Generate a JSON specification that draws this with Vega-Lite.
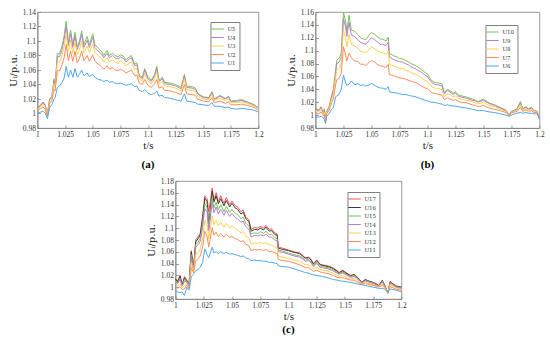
{
"$schema": "https://vega.github.io/schema/vega-lite/v6.json",
"background": "white",
"padding": {"left": 7, "top": 7, "right": 0, "bottom": 0},
"datasets": {
"a": [
{"t":1.000,"U5":1.008,"U4":1.007,"U3":1.006,"U2":1.004,"U1":1.000},
{"t":1.003,"U5":1.012,"U4":1.011,"U3":1.009,"U2":1.007,"U1":1.002},
{"t":1.005,"U5":1.016,"U4":1.015,"U3":1.013,"U2":1.009,"U1":1.003},
{"t":1.007,"U5":1.012,"U4":1.011,"U3":1.009,"U2":1.006,"U1":1.001},
{"t":1.009,"U5":1.000,"U4":0.999,"U3":0.998,"U2":0.996,"U1":0.993},
{"t":1.011,"U5":1.020,"U4":1.019,"U3":1.017,"U2":1.014,"U1":1.008},
{"t":1.013,"U5":1.024,"U4":1.023,"U3":1.021,"U2":1.018,"U1":1.012},
{"t":1.015,"U5":1.048,"U4":1.045,"U3":1.041,"U2":1.033,"U1":1.020},
{"t":1.016,"U5":1.040,"U4":1.038,"U3":1.036,"U2":1.031,"U1":1.022},
{"t":1.018,"U5":1.083,"U4":1.079,"U3":1.071,"U2":1.059,"U1":1.036},
{"t":1.020,"U5":1.082,"U4":1.078,"U3":1.071,"U2":1.059,"U1":1.038},
{"t":1.022,"U5":1.092,"U4":1.087,"U3":1.079,"U2":1.066,"U1":1.042},
{"t":1.024,"U5":1.106,"U4":1.101,"U3":1.091,"U2":1.076,"U1":1.048},
{"t":1.026,"U5":1.127,"U4":1.121,"U3":1.111,"U2":1.095,"U1":1.065},
{"t":1.028,"U5":1.098,"U4":1.094,"U3":1.086,"U2":1.073,"U1":1.050},
{"t":1.030,"U5":1.115,"U4":1.110,"U3":1.101,"U2":1.086,"U1":1.060},
{"t":1.032,"U5":1.095,"U4":1.091,"U3":1.083,"U2":1.072,"U1":1.050},
{"t":1.034,"U5":1.112,"U4":1.107,"U3":1.099,"U2":1.086,"U1":1.062},
{"t":1.036,"U5":1.092,"U4":1.088,"U3":1.081,"U2":1.070,"U1":1.050},
{"t":1.038,"U5":1.100,"U4":1.096,"U3":1.088,"U2":1.076,"U1":1.054},
{"t":1.040,"U5":1.114,"U4":1.109,"U3":1.100,"U2":1.086,"U1":1.060},
{"t":1.042,"U5":1.095,"U4":1.091,"U3":1.084,"U2":1.073,"U1":1.052},
{"t":1.045,"U5":1.106,"U4":1.101,"U3":1.093,"U2":1.080,"U1":1.056},
{"t":1.047,"U5":1.095,"U4":1.091,"U3":1.084,"U2":1.072,"U1":1.051},
{"t":1.050,"U5":1.110,"U4":1.105,"U3":1.096,"U2":1.081,"U1":1.054},
{"t":1.052,"U5":1.095,"U4":1.091,"U3":1.084,"U2":1.072,"U1":1.050},
{"t":1.055,"U5":1.090,"U4":1.086,"U3":1.080,"U2":1.068,"U1":1.047},
{"t":1.058,"U5":1.086,"U4":1.082,"U3":1.076,"U2":1.065,"U1":1.046},
{"t":1.060,"U5":1.080,"U4":1.077,"U3":1.071,"U2":1.061,"U1":1.044},
{"t":1.063,"U5":1.087,"U4":1.083,"U3":1.077,"U2":1.066,"U1":1.046},
{"t":1.065,"U5":1.080,"U4":1.077,"U3":1.071,"U2":1.061,"U1":1.043},
{"t":1.068,"U5":1.083,"U4":1.080,"U3":1.074,"U2":1.063,"U1":1.044},
{"t":1.070,"U5":1.080,"U4":1.077,"U3":1.071,"U2":1.060,"U1":1.042},
{"t":1.073,"U5":1.078,"U4":1.075,"U3":1.069,"U2":1.059,"U1":1.041},
{"t":1.075,"U5":1.081,"U4":1.078,"U3":1.072,"U2":1.061,"U1":1.042},
{"t":1.078,"U5":1.079,"U4":1.076,"U3":1.070,"U2":1.059,"U1":1.040},
{"t":1.080,"U5":1.074,"U4":1.071,"U3":1.066,"U2":1.056,"U1":1.039},
{"t":1.083,"U5":1.078,"U4":1.075,"U3":1.069,"U2":1.058,"U1":1.040},
{"t":1.085,"U5":1.080,"U4":1.077,"U3":1.071,"U2":1.060,"U1":1.041},
{"t":1.088,"U5":1.068,"U4":1.066,"U3":1.061,"U2":1.052,"U1":1.037},
{"t":1.090,"U5":1.070,"U4":1.067,"U3":1.062,"U2":1.053,"U1":1.038},
{"t":1.092,"U5":1.053,"U4":1.051,"U3":1.048,"U2":1.042,"U1":1.032},
{"t":1.095,"U5":1.050,"U4":1.048,"U3":1.045,"U2":1.040,"U1":1.030},
{"t":1.097,"U5":1.062,"U4":1.060,"U3":1.055,"U2":1.047,"U1":1.033},
{"t":1.100,"U5":1.050,"U4":1.048,"U3":1.045,"U2":1.039,"U1":1.028},
{"t":1.103,"U5":1.046,"U4":1.044,"U3":1.041,"U2":1.036,"U1":1.026},
{"t":1.106,"U5":1.054,"U4":1.052,"U3":1.048,"U2":1.041,"U1":1.028},
{"t":1.108,"U5":1.065,"U4":1.062,"U3":1.057,"U2":1.047,"U1":1.031},
{"t":1.110,"U5":1.046,"U4":1.044,"U3":1.041,"U2":1.035,"U1":1.024},
{"t":1.113,"U5":1.050,"U4":1.048,"U3":1.044,"U2":1.037,"U1":1.025},
{"t":1.115,"U5":1.043,"U4":1.041,"U3":1.038,"U2":1.032,"U1":1.022},
{"t":1.120,"U5":1.042,"U4":1.040,"U3":1.037,"U2":1.031,"U1":1.021},
{"t":1.125,"U5":1.040,"U4":1.038,"U3":1.035,"U2":1.029,"U1":1.019},
{"t":1.130,"U5":1.036,"U4":1.034,"U3":1.031,"U2":1.026,"U1":1.017},
{"t":1.133,"U5":1.054,"U4":1.052,"U3":1.048,"U2":1.040,"U1":1.027},
{"t":1.135,"U5":1.038,"U4":1.036,"U3":1.033,"U2":1.027,"U1":1.017},
{"t":1.140,"U5":1.037,"U4":1.035,"U3":1.032,"U2":1.026,"U1":1.016},
{"t":1.143,"U5":1.035,"U4":1.033,"U3":1.030,"U2":1.025,"U1":1.015},
{"t":1.145,"U5":1.028,"U4":1.027,"U3":1.024,"U2":1.020,"U1":1.013},
{"t":1.150,"U5":1.023,"U4":1.022,"U3":1.020,"U2":1.017,"U1":1.012},
{"t":1.155,"U5":1.022,"U4":1.021,"U3":1.019,"U2":1.016,"U1":1.011},
{"t":1.158,"U5":1.030,"U4":1.029,"U3":1.026,"U2":1.022,"U1":1.015},
{"t":1.160,"U5":1.020,"U4":1.019,"U3":1.018,"U2":1.015,"U1":1.010},
{"t":1.165,"U5":1.025,"U4":1.024,"U3":1.021,"U2":1.017,"U1":1.010},
{"t":1.170,"U5":1.021,"U4":1.020,"U3":1.018,"U2":1.014,"U1":1.008},
{"t":1.173,"U5":1.024,"U4":1.023,"U3":1.020,"U2":1.016,"U1":1.009},
{"t":1.175,"U5":1.017,"U4":1.016,"U3":1.015,"U2":1.012,"U1":1.007},
{"t":1.180,"U5":1.018,"U4":1.017,"U3":1.015,"U2":1.012,"U1":1.006},
{"t":1.185,"U5":1.019,"U4":1.018,"U3":1.016,"U2":1.013,"U1":1.007},
{"t":1.190,"U5":1.016,"U4":1.015,"U3":1.014,"U2":1.011,"U1":1.006},
{"t":1.195,"U5":1.013,"U4":1.012,"U3":1.011,"U2":1.009,"U1":1.005},
{"t":1.200,"U5":1.008,"U4":1.008,"U3":1.007,"U2":1.005,"U1":1.002}
],
"b": [
{"t":1.000,"U10":1.010,"U9":1.009,"U8":1.006,"U7":1.003,"U6":0.997},
{"t":1.003,"U10":1.008,"U9":1.007,"U8":1.005,"U7":1.002,"U6":0.997},
{"t":1.005,"U10":1.013,"U9":1.012,"U8":1.009,"U7":1.005,"U6":0.998},
{"t":1.007,"U10":1.003,"U9":1.002,"U8":1.001,"U7":0.999,"U6":0.996},
{"t":1.008,"U10":1.010,"U9":1.008,"U8":1.005,"U7":1.001,"U6":0.993},
{"t":1.009,"U10":0.992,"U9":0.992,"U8":0.991,"U7":0.989,"U6":0.987},
{"t":1.010,"U10":1.006,"U9":1.005,"U8":1.004,"U7":1.002,"U6":0.998},
{"t":1.012,"U10":1.012,"U9":1.011,"U8":1.009,"U7":1.007,"U6":1.002},
{"t":1.014,"U10":1.028,"U9":1.026,"U8":1.022,"U7":1.017,"U6":1.008},
{"t":1.016,"U10":1.040,"U9":1.037,"U8":1.032,"U7":1.025,"U6":1.012},
{"t":1.018,"U10":1.070,"U9":1.066,"U8":1.058,"U7":1.047,"U6":1.028},
{"t":1.019,"U10":1.085,"U9":1.080,"U8":1.070,"U7":1.055,"U6":1.030},
{"t":1.021,"U10":1.088,"U9":1.082,"U8":1.072,"U7":1.057,"U6":1.032},
{"t":1.023,"U10":1.095,"U9":1.090,"U8":1.080,"U7":1.065,"U6":1.040},
{"t":1.025,"U10":1.160,"U9":1.150,"U8":1.133,"U7":1.106,"U6":1.062},
{"t":1.027,"U10":1.145,"U9":1.136,"U8":1.118,"U7":1.093,"U6":1.050},
{"t":1.028,"U10":1.130,"U9":1.122,"U8":1.106,"U7":1.084,"U6":1.046},
{"t":1.030,"U10":1.155,"U9":1.144,"U8":1.125,"U7":1.096,"U6":1.048},
{"t":1.032,"U10":1.132,"U9":1.124,"U8":1.110,"U7":1.089,"U6":1.053},
{"t":1.035,"U10":1.130,"U9":1.122,"U8":1.107,"U7":1.084,"U6":1.047},
{"t":1.038,"U10":1.125,"U9":1.117,"U8":1.104,"U7":1.083,"U6":1.049},
{"t":1.040,"U10":1.120,"U9":1.113,"U8":1.099,"U7":1.079,"U6":1.046},
{"t":1.043,"U10":1.118,"U9":1.111,"U8":1.098,"U7":1.079,"U6":1.047},
{"t":1.045,"U10":1.117,"U9":1.110,"U8":1.097,"U7":1.077,"U6":1.045},
{"t":1.048,"U10":1.124,"U9":1.116,"U8":1.102,"U7":1.082,"U6":1.047},
{"t":1.050,"U10":1.128,"U9":1.120,"U8":1.106,"U7":1.085,"U6":1.049},
{"t":1.053,"U10":1.125,"U9":1.117,"U8":1.103,"U7":1.082,"U6":1.046},
{"t":1.055,"U10":1.122,"U9":1.114,"U8":1.100,"U7":1.079,"U6":1.044},
{"t":1.058,"U10":1.118,"U9":1.110,"U8":1.097,"U7":1.076,"U6":1.042},
{"t":1.060,"U10":1.118,"U9":1.110,"U8":1.097,"U7":1.076,"U6":1.042},
{"t":1.063,"U10":1.115,"U9":1.108,"U8":1.094,"U7":1.074,"U6":1.040},
{"t":1.065,"U10":1.121,"U9":1.113,"U8":1.099,"U7":1.079,"U6":1.044},
{"t":1.066,"U10":1.096,"U9":1.090,"U8":1.079,"U7":1.063,"U6":1.036},
{"t":1.070,"U10":1.092,"U9":1.086,"U8":1.076,"U7":1.061,"U6":1.035},
{"t":1.073,"U10":1.090,"U9":1.084,"U8":1.074,"U7":1.059,"U6":1.034},
{"t":1.075,"U10":1.088,"U9":1.083,"U8":1.073,"U7":1.058,"U6":1.033},
{"t":1.078,"U10":1.087,"U9":1.082,"U8":1.072,"U7":1.057,"U6":1.032},
{"t":1.080,"U10":1.085,"U9":1.080,"U8":1.070,"U7":1.056,"U6":1.032},
{"t":1.083,"U10":1.083,"U9":1.078,"U8":1.068,"U7":1.054,"U6":1.031},
{"t":1.085,"U10":1.080,"U9":1.075,"U8":1.066,"U7":1.053,"U6":1.030},
{"t":1.088,"U10":1.078,"U9":1.073,"U8":1.064,"U7":1.051,"U6":1.029},
{"t":1.090,"U10":1.076,"U9":1.071,"U8":1.063,"U7":1.050,"U6":1.028},
{"t":1.093,"U10":1.073,"U9":1.068,"U8":1.060,"U7":1.047,"U6":1.026},
{"t":1.095,"U10":1.070,"U9":1.066,"U8":1.057,"U7":1.045,"U6":1.025},
{"t":1.098,"U10":1.066,"U9":1.062,"U8":1.054,"U7":1.042,"U6":1.023},
{"t":1.100,"U10":1.064,"U9":1.060,"U8":1.052,"U7":1.041,"U6":1.022},
{"t":1.103,"U10":1.055,"U9":1.052,"U8":1.045,"U7":1.036,"U6":1.020},
{"t":1.105,"U10":1.052,"U9":1.049,"U8":1.043,"U7":1.034,"U6":1.020},
{"t":1.108,"U10":1.050,"U9":1.047,"U8":1.041,"U7":1.033,"U6":1.019},
{"t":1.110,"U10":1.050,"U9":1.047,"U8":1.041,"U7":1.032,"U6":1.018},
{"t":1.113,"U10":1.048,"U9":1.045,"U8":1.039,"U7":1.031,"U6":1.017},
{"t":1.115,"U10":1.035,"U9":1.033,"U8":1.029,"U7":1.024,"U6":1.015},
{"t":1.118,"U10":1.040,"U9":1.038,"U8":1.033,"U7":1.027,"U6":1.016},
{"t":1.120,"U10":1.038,"U9":1.036,"U8":1.032,"U7":1.025,"U6":1.015},
{"t":1.123,"U10":1.034,"U9":1.032,"U8":1.028,"U7":1.023,"U6":1.014},
{"t":1.125,"U10":1.036,"U9":1.034,"U8":1.030,"U7":1.024,"U6":1.014},
{"t":1.128,"U10":1.031,"U9":1.029,"U8":1.026,"U7":1.021,"U6":1.013},
{"t":1.130,"U10":1.030,"U9":1.028,"U8":1.025,"U7":1.020,"U6":1.012},
{"t":1.135,"U10":1.028,"U9":1.026,"U8":1.023,"U7":1.019,"U6":1.011},
{"t":1.140,"U10":1.025,"U9":1.023,"U8":1.021,"U7":1.016,"U6":1.009},
{"t":1.143,"U10":1.023,"U9":1.022,"U8":1.019,"U7":1.015,"U6":1.008},
{"t":1.145,"U10":1.021,"U9":1.020,"U8":1.017,"U7":1.013,"U6":1.007},
{"t":1.150,"U10":1.025,"U9":1.023,"U8":1.020,"U7":1.015,"U6":1.007},
{"t":1.155,"U10":1.019,"U9":1.018,"U8":1.015,"U7":1.011,"U6":1.005},
{"t":1.160,"U10":1.016,"U9":1.015,"U8":1.013,"U7":1.009,"U6":1.004},
{"t":1.165,"U10":1.012,"U9":1.011,"U8":1.009,"U7":1.007,"U6":1.002},
{"t":1.170,"U10":1.008,"U9":1.007,"U8":1.006,"U7":1.004,"U6":1.000},
{"t":1.173,"U10":1.000,"U9":1.000,"U8":0.999,"U7":0.999,"U6":0.998},
{"t":1.175,"U10":1.006,"U9":1.005,"U8":1.004,"U7":1.003,"U6":1.000},
{"t":1.178,"U10":1.008,"U9":1.007,"U8":1.006,"U7":1.005,"U6":1.002},
{"t":1.180,"U10":1.010,"U9":1.009,"U8":1.008,"U7":1.006,"U6":1.003},
{"t":1.183,"U10":1.021,"U9":1.019,"U8":1.016,"U7":1.012,"U6":1.004},
{"t":1.185,"U10":1.010,"U9":1.009,"U8":1.008,"U7":1.006,"U6":1.003},
{"t":1.188,"U10":1.013,"U9":1.012,"U8":1.010,"U7":1.008,"U6":1.004},
{"t":1.190,"U10":1.010,"U9":1.009,"U8":1.008,"U7":1.006,"U6":1.003},
{"t":1.193,"U10":1.012,"U9":1.011,"U8":1.009,"U7":1.007,"U6":1.003},
{"t":1.195,"U10":1.007,"U9":1.007,"U8":1.006,"U7":1.004,"U6":1.002},
{"t":1.198,"U10":1.006,"U9":1.006,"U8":1.005,"U7":1.004,"U6":1.002},
{"t":1.200,"U10":0.994,"U9":0.994,"U8":0.994,"U7":0.994,"U6":0.994}
],
"c": [
{"t":1.000,"U17":1.015,"U16":1.014,"U15":1.011,"U14":1.010,"U13":1.005,"U12":1.000,"U11":0.993},
{"t":1.002,"U17":1.010,"U16":1.009,"U15":1.007,"U14":1.006,"U13":1.002,"U12":0.998,"U11":0.992},
{"t":1.004,"U17":1.020,"U16":1.019,"U15":1.015,"U14":1.013,"U13":1.006,"U12":1.001,"U11":0.991},
{"t":1.006,"U17":1.005,"U16":1.004,"U15":1.003,"U14":1.002,"U13":0.999,"U12":0.996,"U11":0.992},
{"t":1.008,"U17":1.018,"U16":1.016,"U15":1.013,"U14":1.010,"U13":1.003,"U12":0.997,"U11":0.986},
{"t":1.010,"U17":1.012,"U16":1.011,"U15":1.010,"U14":1.009,"U13":1.006,"U12":1.004,"U11":1.000},
{"t":1.012,"U17":1.004,"U16":1.004,"U15":1.003,"U14":1.002,"U13":1.000,"U12":0.998,"U11":0.995},
{"t":1.014,"U17":1.062,"U16":1.060,"U15":1.055,"U14":1.051,"U13":1.041,"U12":1.033,"U11":1.018},
{"t":1.016,"U17":1.032,"U16":1.032,"U15":1.030,"U14":1.030,"U13":1.027,"U12":1.025,"U11":1.022},
{"t":1.018,"U17":1.080,"U16":1.077,"U15":1.072,"U14":1.068,"U13":1.056,"U12":1.045,"U11":1.028},
{"t":1.020,"U17":1.085,"U16":1.082,"U15":1.076,"U14":1.072,"U13":1.059,"U12":1.048,"U11":1.030},
{"t":1.022,"U17":1.092,"U16":1.089,"U15":1.083,"U14":1.078,"U13":1.065,"U12":1.053,"U11":1.034},
{"t":1.024,"U17":1.120,"U16":1.116,"U15":1.108,"U14":1.101,"U13":1.083,"U12":1.068,"U11":1.042},
{"t":1.026,"U17":1.155,"U16":1.151,"U15":1.141,"U14":1.133,"U13":1.113,"U12":1.095,"U11":1.065},
{"t":1.028,"U17":1.150,"U16":1.145,"U15":1.135,"U14":1.127,"U13":1.105,"U12":1.086,"U11":1.055},
{"t":1.0295,"U17":1.128,"U16":1.105,"U15":1.100,"U14":1.095,"U13":1.082,"U12":1.068,"U11":1.050},
{"t":1.0325,"U17":1.168,"U16":1.163,"U15":1.152,"U14":1.144,"U13":1.121,"U12":1.101,"U11":1.068},
{"t":1.034,"U17":1.148,"U16":1.144,"U15":1.134,"U14":1.126,"U13":1.106,"U12":1.088,"U11":1.058},
{"t":1.036,"U17":1.160,"U16":1.155,"U15":1.144,"U14":1.136,"U13":1.113,"U12":1.093,"U11":1.060},
{"t":1.038,"U17":1.145,"U16":1.141,"U15":1.131,"U14":1.124,"U13":1.104,"U12":1.086,"U11":1.057},
{"t":1.040,"U17":1.155,"U16":1.150,"U15":1.140,"U14":1.132,"U13":1.110,"U12":1.091,"U11":1.060},
{"t":1.043,"U17":1.142,"U16":1.138,"U15":1.128,"U14":1.122,"U13":1.102,"U12":1.085,"U11":1.057},
{"t":1.045,"U17":1.152,"U16":1.147,"U15":1.137,"U14":1.130,"U13":1.108,"U12":1.090,"U11":1.059},
{"t":1.048,"U17":1.140,"U16":1.136,"U15":1.127,"U14":1.120,"U13":1.101,"U12":1.084,"U11":1.056},
{"t":1.050,"U17":1.146,"U16":1.142,"U15":1.132,"U14":1.125,"U13":1.104,"U12":1.086,"U11":1.057},
{"t":1.053,"U17":1.138,"U16":1.134,"U15":1.125,"U14":1.118,"U13":1.099,"U12":1.082,"U11":1.055},
{"t":1.055,"U17":1.136,"U16":1.132,"U15":1.123,"U14":1.116,"U13":1.097,"U12":1.081,"U11":1.054},
{"t":1.058,"U17":1.128,"U16":1.124,"U15":1.116,"U14":1.110,"U13":1.092,"U12":1.077,"U11":1.052},
{"t":1.060,"U17":1.131,"U16":1.127,"U15":1.119,"U14":1.112,"U13":1.094,"U12":1.079,"U11":1.053},
{"t":1.062,"U17":1.120,"U16":1.117,"U15":1.109,"U14":1.103,"U13":1.087,"U12":1.073,"U11":1.050},
{"t":1.065,"U17":1.114,"U16":1.111,"U15":1.103,"U14":1.098,"U13":1.083,"U12":1.070,"U11":1.048},
{"t":1.067,"U17":1.098,"U16":1.095,"U15":1.090,"U14":1.085,"U13":1.073,"U12":1.062,"U11":1.045},
{"t":1.070,"U17":1.101,"U16":1.098,"U15":1.092,"U14":1.088,"U13":1.075,"U12":1.064,"U11":1.046},
{"t":1.073,"U17":1.100,"U16":1.097,"U15":1.091,"U14":1.087,"U13":1.074,"U12":1.063,"U11":1.045},
{"t":1.075,"U17":1.103,"U16":1.100,"U15":1.094,"U14":1.089,"U13":1.076,"U12":1.064,"U11":1.045},
{"t":1.078,"U17":1.100,"U16":1.097,"U15":1.091,"U14":1.087,"U13":1.074,"U12":1.062,"U11":1.044},
{"t":1.080,"U17":1.105,"U16":1.102,"U15":1.095,"U14":1.090,"U13":1.076,"U12":1.064,"U11":1.044},
{"t":1.083,"U17":1.098,"U16":1.095,"U15":1.089,"U14":1.085,"U13":1.072,"U12":1.060,"U11":1.042},
{"t":1.085,"U17":1.099,"U16":1.096,"U15":1.090,"U14":1.085,"U13":1.072,"U12":1.061,"U11":1.042},
{"t":1.088,"U17":1.092,"U16":1.089,"U15":1.084,"U14":1.080,"U13":1.068,"U12":1.058,"U11":1.041},
{"t":1.090,"U17":1.090,"U16":1.088,"U15":1.082,"U14":1.078,"U13":1.067,"U12":1.057,"U11":1.040},
{"t":1.091,"U17":1.068,"U16":1.066,"U15":1.063,"U14":1.060,"U13":1.053,"U12":1.047,"U11":1.036},
{"t":1.095,"U17":1.066,"U16":1.064,"U15":1.061,"U14":1.059,"U13":1.051,"U12":1.045,"U11":1.035},
{"t":1.100,"U17":1.063,"U16":1.062,"U15":1.058,"U14":1.056,"U13":1.049,"U12":1.044,"U11":1.034},
{"t":1.105,"U17":1.060,"U16":1.059,"U15":1.055,"U14":1.053,"U13":1.046,"U12":1.041,"U11":1.031},
{"t":1.110,"U17":1.058,"U16":1.057,"U15":1.053,"U14":1.051,"U13":1.044,"U12":1.038,"U11":1.028},
{"t":1.113,"U17":1.053,"U16":1.052,"U15":1.049,"U14":1.047,"U13":1.040,"U12":1.035,"U11":1.026},
{"t":1.115,"U17":1.050,"U16":1.049,"U15":1.046,"U14":1.044,"U13":1.038,"U12":1.033,"U11":1.025},
{"t":1.118,"U17":1.051,"U16":1.050,"U15":1.047,"U14":1.045,"U13":1.038,"U12":1.033,"U11":1.024},
{"t":1.120,"U17":1.047,"U16":1.046,"U15":1.043,"U14":1.041,"U13":1.035,"U12":1.030,"U11":1.022},
{"t":1.122,"U17":1.040,"U16":1.039,"U15":1.037,"U14":1.035,"U13":1.031,"U12":1.027,"U11":1.021},
{"t":1.125,"U17":1.046,"U16":1.045,"U15":1.042,"U14":1.040,"U13":1.034,"U12":1.029,"U11":1.020},
{"t":1.128,"U17":1.039,"U16":1.038,"U15":1.036,"U14":1.034,"U13":1.030,"U12":1.026,"U11":1.019},
{"t":1.130,"U17":1.038,"U16":1.037,"U15":1.035,"U14":1.033,"U13":1.029,"U12":1.025,"U11":1.018},
{"t":1.135,"U17":1.036,"U16":1.035,"U15":1.033,"U14":1.031,"U13":1.027,"U12":1.023,"U11":1.016},
{"t":1.138,"U17":1.034,"U16":1.033,"U15":1.031,"U14":1.029,"U13":1.025,"U12":1.021,"U11":1.014},
{"t":1.140,"U17":1.032,"U16":1.031,"U15":1.029,"U14":1.027,"U13":1.023,"U12":1.019,"U11":1.013},
{"t":1.143,"U17":1.028,"U16":1.027,"U15":1.025,"U14":1.024,"U13":1.020,"U12":1.017,"U11":1.012},
{"t":1.145,"U17":1.025,"U16":1.024,"U15":1.023,"U14":1.022,"U13":1.018,"U12":1.016,"U11":1.011},
{"t":1.148,"U17":1.029,"U16":1.028,"U15":1.026,"U14":1.024,"U13":1.020,"U12":1.016,"U11":1.010},
{"t":1.150,"U17":1.026,"U16":1.025,"U15":1.023,"U14":1.022,"U13":1.018,"U12":1.015,"U11":1.010},
{"t":1.155,"U17":1.020,"U16":1.019,"U15":1.018,"U14":1.017,"U13":1.014,"U12":1.012,"U11":1.008},
{"t":1.158,"U17":1.022,"U16":1.021,"U15":1.020,"U14":1.018,"U13":1.015,"U12":1.012,"U11":1.007},
{"t":1.160,"U17":1.019,"U16":1.018,"U15":1.017,"U14":1.016,"U13":1.013,"U12":1.010,"U11":1.006},
{"t":1.165,"U17":1.008,"U16":1.008,"U15":1.007,"U14":1.007,"U13":1.006,"U12":1.005,"U11":1.004},
{"t":1.168,"U17":1.013,"U16":1.013,"U15":1.011,"U14":1.011,"U13":1.008,"U12":1.006,"U11":1.003},
{"t":1.170,"U17":1.011,"U16":1.011,"U15":1.010,"U14":1.009,"U13":1.007,"U12":1.005,"U11":1.002},
{"t":1.175,"U17":1.008,"U16":1.008,"U15":1.007,"U14":1.006,"U13":1.004,"U12":1.003,"U11":1.000},
{"t":1.180,"U17":1.003,"U16":1.003,"U15":1.002,"U14":1.002,"U13":1.001,"U12":1.000,"U11":0.998},
{"t":1.183,"U17":1.012,"U16":1.011,"U15":1.010,"U14":1.009,"U13":1.005,"U12":1.003,"U11":0.998},
{"t":1.185,"U17":1.004,"U16":1.004,"U15":1.003,"U14":1.002,"U13":1.001,"U12":0.999,"U11":0.997},
{"t":1.188,"U17":0.990,"U16":0.990,"U15":0.990,"U14":0.990,"U13":0.991,"U12":0.991,"U11":0.992},
{"t":1.190,"U17":1.010,"U16":1.009,"U15":1.008,"U14":1.007,"U13":1.004,"U12":1.001,"U11":0.997},
{"t":1.195,"U17":1.002,"U16":1.002,"U15":1.001,"U14":1.000,"U13":0.999,"U12":0.997,"U11":0.995},
{"t":1.200,"U17":1.000,"U16":1.000,"U15":0.999,"U14":0.998,"U13":0.996,"U12":0.995,"U11":0.992}
]
},
"config": {
"font": "Liberation Serif",
"view": {"stroke": "#808080", "strokeWidth": 0.8},
"axis": {"grid": false, "labelFont": "Liberation Serif", "labelFontSize": 7.5, "labelColor": "#333333", "titleFont": "Liberation Serif", "titleFontSize": 11, "titleFontWeight": "normal", "titleColor": "#222222", "domainColor": "#808080", "domainWidth": 0.8, "tickColor": "#808080", "tickSize": -3, "tickWidth": 0.8, "labelPadding": 5, "labelFlush": false, "labelOverlap": false},
"axisX": {"titlePadding": 2},
"axisY": {"titlePadding": 4},
"legend": {"orient": "none", "title": null, "strokeColor": "#808080", "fillColor": "white", "padding": 3, "rowPadding": 0.5, "labelFont": "DejaVu Serif", "labelFontSize": 5.5, "labelColor": "#333333", "labelOffset": 6, "symbolType": "M-2,0H2", "symbolSize": 40, "symbolStrokeWidth": 1.2, "labelExpr": "{'U1':'U₁','U2':'U₂','U3':'U₃','U4':'U₄','U5':'U₅','U6':'U₆','U7':'U₇','U8':'U₈','U9':'U₉','U10':'U₁₀','U11':'U₁₁','U12':'U₁₂','U13':'U₁₃','U14':'U₁₄','U15':'U₁₅','U16':'U₁₆','U17':'U₁₇'}[datum.label]"},
"title": {"orient": "bottom", "font": "Liberation Serif", "fontSize": 11, "fontWeight": "bold", "color": "#000000", "offset": 8},
"line": {"strokeWidth": 1, "clip": true}
},
"vconcat": [
{
"hconcat": [
{
"width": 221, "height": 116,
"title": "(a)",
"data": {"name": "a"},
"transform": [{"fold": ["U5","U4","U3","U2","U1"], "as": ["series","U"]}],
"mark": "line",
"encoding": {
"x": {"field": "t", "type": "quantitative", "scale": {"domain": [1, 1.2], "nice": false}, "axis": {"title": "t/s", "values": [1,1.025,1.05,1.075,1.1,1.125,1.15,1.175,1.2], "format": ".3~f"}},
"y": {"field": "U", "type": "quantitative", "scale": {"domain": [0.98, 1.14], "nice": false, "zero": false}, "axis": {"title": "Uᵢ/p.u.", "titleFont": "DejaVu Serif", "titleFontSize": 10, "values": [0.98,1,1.02,1.04,1.06,1.08,1.1,1.12,1.14], "format": ".2~f"}},
"color": {"field": "series", "type": "nominal", "sort": null, "scale": {"domain": ["U5","U4","U3","U2","U1"], "range": ["#78c456","#b97dd2","#ffd24d","#ff8c5a","#4ea8ea"]}, "legend": {"legendX": 173, "legendY": 10}}
}
},
{
"width": 224, "height": 116,
"title": "(b)",
"data": {"name": "b"},
"transform": [{"fold": ["U10","U9","U8","U7","U6"], "as": ["series","U"]}],
"mark": "line",
"encoding": {
"x": {"field": "t", "type": "quantitative", "scale": {"domain": [1, 1.2], "nice": false}, "axis": {"title": "t/s", "values": [1,1.025,1.05,1.075,1.1,1.125,1.15,1.175,1.2], "format": ".3~f"}},
"y": {"field": "U", "type": "quantitative", "scale": {"domain": [0.98, 1.16], "nice": false, "zero": false}, "axis": {"title": "Uᵢ/p.u.", "titleFont": "DejaVu Serif", "titleFontSize": 10, "values": [0.98,1,1.02,1.04,1.06,1.08,1.1,1.12,1.14,1.16], "format": ".2~f"}},
"color": {"field": "series", "type": "nominal", "sort": null, "scale": {"domain": ["U10","U9","U8","U7","U6"], "range": ["#78c456","#b97dd2","#ffd24d","#ff8c5a","#4ea8ea"]}, "legend": {"legendX": 170, "legendY": 13}}
}
}
],
"spacing": 21,
"resolve": {"scale": {"color": "independent", "x": "independent", "y": "independent"}, "legend": {"color": "independent"}}
},
{
"width": 226, "height": 118,
"title": {"text": "(c)", "offset": 2},
"data": {"name": "c"},
"transform": [{"fold": ["U17","U16","U15","U14","U13","U12","U11"], "as": ["series","U"]}],
"mark": "line",
"encoding": {
"x": {"field": "t", "type": "quantitative", "scale": {"domain": [1, 1.2], "nice": false}, "axis": {"title": "t/s", "values": [1,1.025,1.05,1.075,1.1,1.125,1.15,1.175,1.2], "format": ".3~f"}},
"y": {"field": "U", "type": "quantitative", "scale": {"domain": [0.98, 1.18], "nice": false, "zero": false}, "axis": {"title": "Uᵢ/p.u.", "titleFont": "DejaVu Serif", "titleFontSize": 10, "values": [0.98,1,1.02,1.04,1.06,1.08,1.1,1.12,1.14,1.16,1.18], "format": ".2~f"}},
"color": {"field": "series", "type": "nominal", "sort": null, "scale": {"domain": ["U17","U16","U15","U14","U13","U12","U11"], "range": ["#ff5252","#3c3c3c","#78c456","#b97dd2","#ffd24d","#ff8c5a","#4ea8ea"]}, "legend": {"legendX": 172, "legendY": 11}}
}
}
],
"spacing": 6,
"center": true,
"resolve": {"scale": {"color": "independent", "x": "independent", "y": "independent"}, "legend": {"color": "independent"}}
}
